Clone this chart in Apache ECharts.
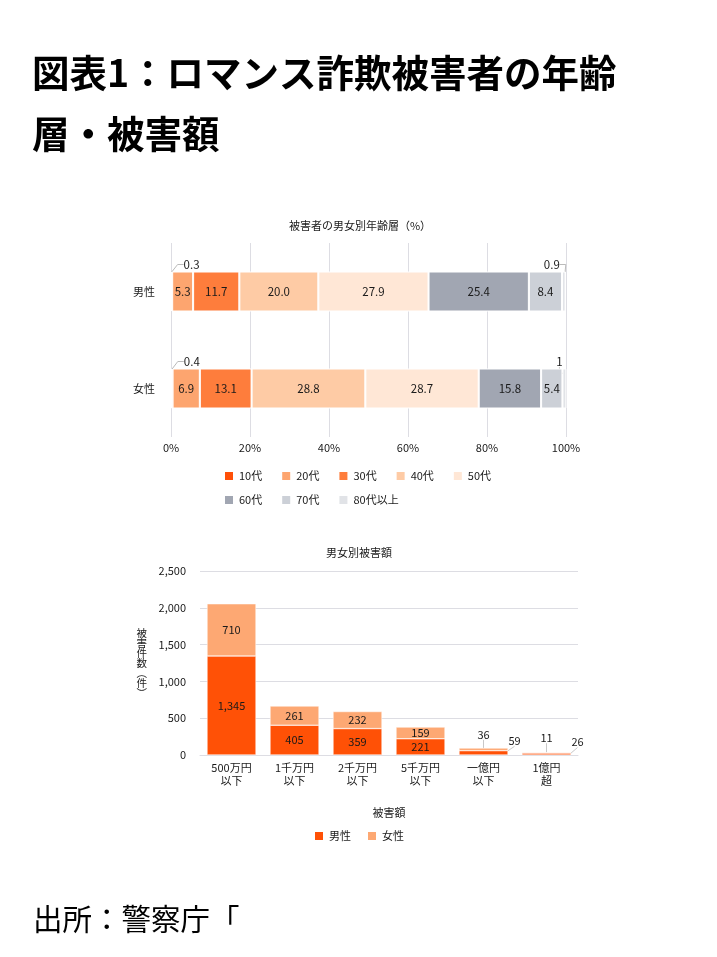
<!DOCTYPE html>
<html>
<head>
<meta charset="utf-8">
<script src="https://cdn.jsdelivr.net/npm/echarts@6/dist/echarts.min.js"></script>
<style>
html, body { margin: 0; padding: 0; background: #fff; }
#main { width: 717px; height: 957px; }
</style>
</head>
<body>
<div id="main"></div>
<script>
// 年齢層（%）
var ageGroups = ['10代', '20代', '30代', '40代', '50代', '60代', '70代', '80代以上']
var ageColors = ['#FF5008', '#FDA56F', '#FE7D3C', '#FECBA5', '#FFE7D6', '#A1A6B2', '#CCD0D7', '#E1E3E7']
var sexes = ['男性', '女性']
var maleAge = [0.3, 5.3, 11.7, 20.0, 27.9, 25.4, 8.4, 0.9]
var femaleAge = [0.4, 6.9, 13.1, 28.8, 28.7, 15.8, 5.4, 1]

// 被害額（件）
var amountCats = ['500万円\n以下', '1千万円\n以下', '2千万円\n以下', '5千万円\n以下', '一億円\n以下', '1億円\n超']
var maleCount = [1345, 405, 359, 221, 59, 26]
var femaleCount = [710, 261, 232, 159, 36, 11]

var font = '"Noto Sans CJK JP", "Noto Sans", sans-serif'
var txt = '#1a1a1a'

function fmtPct(p) {
	var v = p.value
	return (v % 1 === 0 && v < 10) ? String(v) : v.toFixed(1)
}

// 小さい値のラベルは外に出して引き出し線
function ageLayout(p) {
	if (p.seriesIndex === 0) return { dx: 20, dy: -27 }
	if (p.seriesIndex === 7) return { dx: p.dataIndex === 0 ? -12 : -5, dy: -27 }
	return {}
}

var ageSeries = ageGroups.map(function(name, i) {
	var small = (i === 0 || i === 7)
	return {
		name: name,
		type: 'bar',
		stack: 'age',
		xAxisIndex: 0,
		yAxisIndex: 0,
		barWidth: 40,
		data: [maleAge[i], femaleAge[i]],
		itemStyle: { color: ageColors[i], borderColor: '#fff', borderWidth: 1 },
		label: { show: true, position: 'inside', color: txt, fontSize: 11.5, fontFamily: font, formatter: fmtPct },
		labelLine: { show: small, length2: 6, lineStyle: { color: '#bbb', width: 1 } },
		labelLayout: ageLayout
	}
})

var MALE_IDX = ageGroups.length
function countLayout(p) {
	if (p.dataIndex < 4) return {}
	if (p.seriesIndex === MALE_IDX) return { dx: 31, dy: -12 }
	return { dy: -15 }
}

function countData(arr) {
	return arr.map(function(v, i) {
		if (i < 4) return v
		return { value: v, labelLine: { show: true, lineStyle: { color: '#c8c8c8', width: 1 } } }
	})
}

var countSeries = [
	{ name: '男性', data: countData(maleCount), color: '#FF5106' },
	{ name: '女性', data: countData(femaleCount), color: '#FDA873' }
].map(function(s) {
	return {
		name: s.name,
		type: 'bar',
		stack: 'count',
		xAxisIndex: 1,
		yAxisIndex: 1,
		barWidth: 49,
		data: s.data,
		itemStyle: { color: s.color, borderColor: '#fff', borderWidth: 0.5 },
		label: {
			show: true, position: 'inside', color: txt, fontSize: 11, fontFamily: font,
			formatter: function(p) { return p.value.toLocaleString('en-US') }
		},
		labelLine: { show: false },
		labelLayout: countLayout
	}
})

var chart = echarts.init(document.getElementById('main'))
chart.setOption({
	animation: false,
	backgroundColor: '#fff',
	textStyle: { fontFamily: font },
	title: [
		{
			text: '図表1：ロマンス詐欺被害者の年齢\n層・被害額',
			left: 27, top: 37,
			textStyle: { fontSize: 37.5, fontWeight: 'bold', color: '#000', lineHeight: 61, fontFamily: font }
		},
		{
			text: '被害者の男女別年齢層（%）',
			left: 355, top: 215, textAlign: 'center',
			textStyle: { fontSize: 11, fontWeight: 'normal', color: txt, fontFamily: font }
		},
		{
			text: '男女別被害額',
			left: 354, top: 542, textAlign: 'center',
			textStyle: { fontSize: 11, fontWeight: 'normal', color: txt, fontFamily: font }
		},
		{
			text: '出所：警察庁「',
			left: 28, top: 899,
			textStyle: { fontSize: 29.5, fontWeight: 'normal', color: '#000', fontFamily: font }
		}
	],
	legend: [
		{
			data: ageGroups.slice(0, 5),
			left: 218, top: 465,
			itemWidth: 10, itemHeight: 10, itemGap: 18, icon: 'rect',
			textStyle: { fontSize: 11, color: txt, fontFamily: font }
		},
		{
			data: ageGroups.slice(5),
			left: 218, top: 489,
			itemWidth: 10, itemHeight: 10, itemGap: 18, icon: 'rect',
			textStyle: { fontSize: 11, color: txt, fontFamily: font }
		},
		{
			data: ['男性', '女性'],
			left: 308, top: 825,
			itemWidth: 10, itemHeight: 10, itemGap: 15, icon: 'rect',
			textStyle: { fontSize: 11, color: txt, fontFamily: font }
		}
	],
	grid: [
		{ left: 171, right: 151, top: 243, bottom: 520 },
		{ left: 200, right: 139, top: 571, bottom: 202 }
	],
	xAxis: [
		{
			gridIndex: 0, type: 'value', min: 0, max: 100, interval: 20,
			axisLine: { show: false }, axisTick: { show: false },
			axisLabel: { formatter: '{value}%', color: txt, fontSize: 11, margin: 5 },
			splitLine: { lineStyle: { color: '#DDDDE3' } }
		},
		{
			gridIndex: 1, type: 'category', data: amountCats,
			axisLine: { lineStyle: { color: '#DDDDE3' } }, axisTick: { show: false },
			axisLabel: { color: txt, fontSize: 11, lineHeight: 13, margin: 6 },
			name: '被害額', nameLocation: 'middle', nameGap: 52,
			nameTextStyle: { color: txt, fontSize: 11 }
		}
	],
	yAxis: [
		{
			gridIndex: 0, type: 'category', data: sexes, inverse: true,
			axisLine: { show: false }, axisTick: { show: false },
			axisLabel: { color: txt, fontSize: 11, margin: 16 }
		},
		{
			gridIndex: 1, type: 'value', min: 0, max: 2500, interval: 500,
			axisLine: { show: false }, axisTick: { show: false },
			axisLabel: { color: txt, fontSize: 11, margin: 14, formatter: function(v) { return v.toLocaleString('en-US') } },
			splitLine: { lineStyle: { color: '#DDDDE3' } },
			name: '被\n害\n件\n数\n︵\n件\n︶', nameLocation: 'middle', nameGap: 53, nameRotate: 0,
			nameTextStyle: { color: txt, fontSize: 10.5, lineHeight: 10 }
		}
	],
	series: ageSeries.concat(countSeries)
})
</script>
</body>
</html>
